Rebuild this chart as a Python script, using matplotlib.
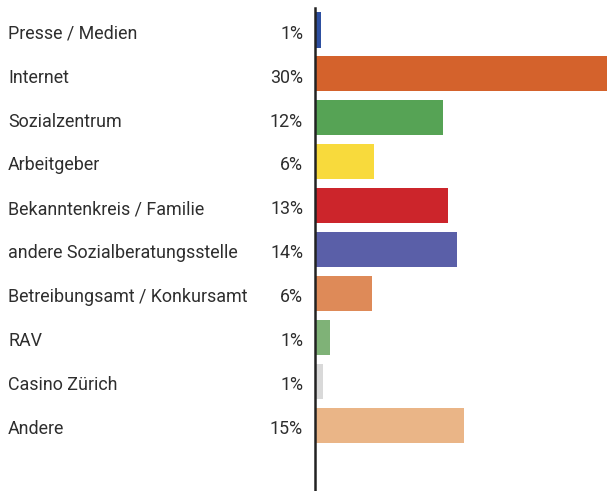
import matplotlib

matplotlib.use("Agg")
import matplotlib.pyplot as plt
import matplotlib.transforms as mtransforms

# Quelle der Kontaktaufnahme (Anteile in %)
categories = [
    "Presse / Medien",
    "Internet",
    "Sozialzentrum",
    "Arbeitgeber",
    "Bekanntenkreis / Familie",
    "andere Sozialberatungsstelle",
    "Betreibungsamt / Konkursamt",
    "RAV",
    "Casino Zürich",
    "Andere",
]
shares = [0.55, 29.9, 12.45, 5.75, 12.96, 13.84, 5.56, 1.46, 0.78, 14.55]
colors = [
    "#2d4fa0", "#d4622c", "#56a355", "#f8da3c", "#cc252b",
    "#5a5fa8", "#de8a58", "#7fb277", "#d9d9d9", "#eab587",
]

W, H = 607, 491
fig = plt.figure(figsize=(W / 100, H / 100), dpi=100)
ax = fig.add_axes([315 / W, 0, 1 - 315 / W, 1 - 8 / H])

ypos = list(range(len(categories)))
ax.barh(ypos, shares, height=0.8, color=colors)
ax.set_xlim(0, 292 / 10.26)
ax.set_ylim(len(categories) + 0.5, -0.5)

for side in ["top", "right", "bottom"]:
    ax.spines[side].set_visible(False)
ax.spines["left"].set_linewidth(1.8)
ax.spines["left"].set_color("#222222")
ax.set_xticks([])
ax.set_yticks([])

# labels sit on a baseline a bit below the bar centre
trans = mtransforms.blended_transform_factory(fig.transFigure, ax.transData)
font = dict(family="Roboto", fontsize=12.9, color="#2e2e2e", va="baseline")
for y, name, v in zip(ypos, categories, shares):
    ax.text(8 / W, y + 0.2, name, transform=trans, ha="left", **font)
    ax.text(303 / W, y + 0.2, "{}%".format(round(v)), transform=trans, ha="right", **font)

fig.savefig("out.png", dpi=100)
